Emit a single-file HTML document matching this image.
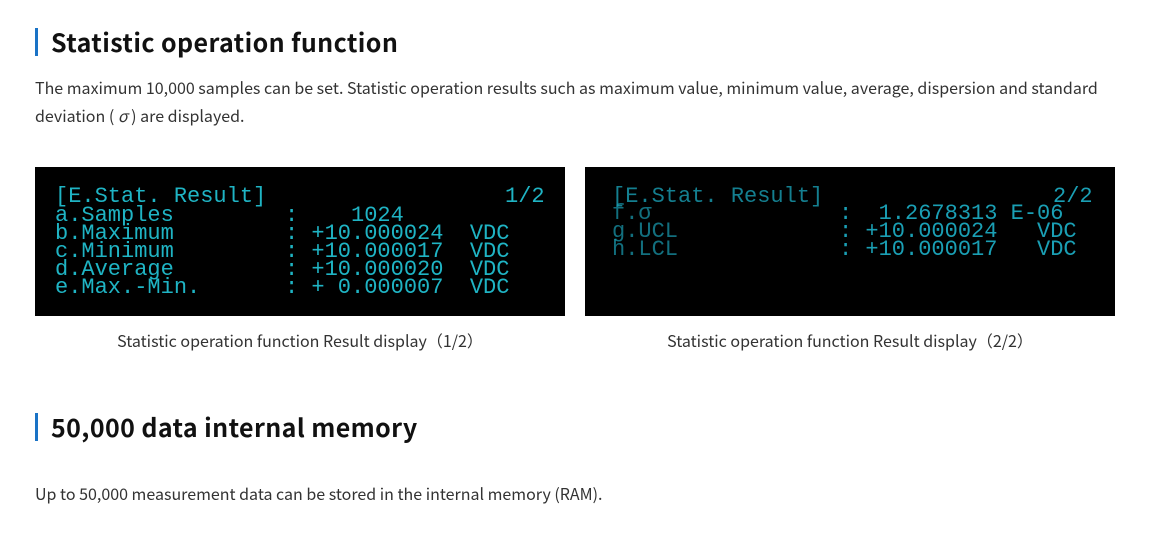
<!DOCTYPE html>
<html><head><meta charset="utf-8"><style>
body{margin:0;width:1156px;height:534px;background:#fff;position:relative;font-family:"Noto Sans CJK JP","Liberation Sans",sans-serif;color:#333;overflow:hidden}
.h{position:absolute;left:35px;border-left:3px solid #1a73c6;padding-left:13px;font-weight:bold;font-size:25px;line-height:28px;color:#111;letter-spacing:0.4px}
.p{position:absolute;left:35px;font-size:16px;line-height:28px;color:#333;white-space:nowrap}
.scr{position:absolute;top:167px;width:530px;height:149px;background:#000;font-family:"Liberation Mono",monospace;color:#1fb4c4;font-size:22px;line-height:18px}
.scr div{position:absolute;white-space:pre}
.cap{position:absolute;top:327px;font-size:16px;line-height:26px;color:#333;text-align:center;width:530px}
</style></head><body>
<div class="h" style="top:28px">Statistic operation function</div>
<div class="p" style="top:73px">The maximum 10,000 samples can be set. Statistic operation results such as maximum value, minimum value, average, dispersion and standard</div>
<div class="p" style="top:101px">deviation ( <i>σ</i> ) are displayed.</div>

<div class="scr" style="left:35px">
<div style="left:20px;top:21px">[E.Stat. Result]</div>
<div style="left:470px;top:21px">1/2</div>
<div style="left:20px;top:40px">a.Samples</div>
<div style="left:20px;top:58px">b.Maximum</div>
<div style="left:20px;top:76px">c.Minimum</div>
<div style="left:20px;top:94px">d.Average</div>
<div style="left:20px;top:112px">e.Max.-Min.</div>
<div style="left:250px;top:40px">:    1024</div>
<div style="left:250px;top:58px">: +10.000024  VDC</div>
<div style="left:250px;top:76px">: +10.000017  VDC</div>
<div style="left:250px;top:94px">: +10.000020  VDC</div>
<div style="left:250px;top:112px">: + 0.000007  VDC</div>
</div>
<div class="cap" style="left:35px">Statistic operation function Result display（1/2）</div>

<div class="scr" style="left:585px;color:#1a9fb4">
<div style="left:27px;top:21px;opacity:.8">[E.Stat. Result]</div>
<div style="left:468px;top:21px">2/2</div>
<div style="left:27px;top:38px;opacity:.7">f.σ</div>
<div style="left:27px;top:56px;opacity:.7">g.UCL</div>
<div style="left:27px;top:74px;opacity:.7">h.LCL</div>
<div style="left:254px;top:38px">:  1.2678313 E-06</div>
<div style="left:254px;top:56px">: +10.000024   VDC</div>
<div style="left:254px;top:74px">: +10.000017   VDC</div>
</div>
<div class="cap" style="left:585px">Statistic operation function Result display（2/2）</div>

<div class="h" style="top:413px">50,000 data internal memory</div>
<div class="p" style="top:479px">Up to 50,000 measurement data can be stored in the internal memory (RAM).</div>
</body></html>
